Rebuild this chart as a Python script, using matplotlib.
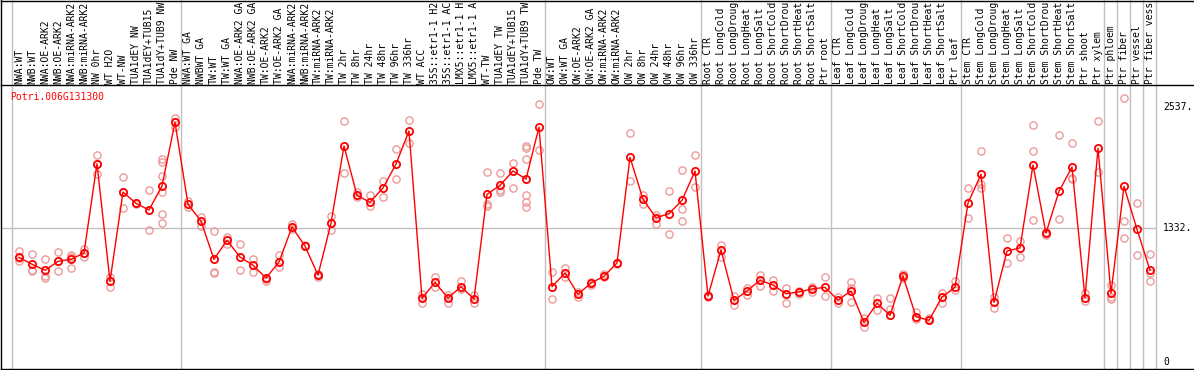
import matplotlib
matplotlib.use("Agg")
import matplotlib.pyplot as plt
from matplotlib.lines import Line2D

gene_id = "Potri.006G131300"

labels = [
    "NWA:WT", "NWB:WT", "NWA:OE-ARK2", "NWB:OE-ARK2", "NWA:miRNA-ARK2", "NWB:miRNA-ARK2",
    "NW 0hr", "WT H2O", "WT-NW", "TUA1dEY NW", "TUA1dEY+TUB15 NW", "TUA1dY+TUB9 NW", "Pde NW",
    "NWA:WT GA", "NWBWT GA", "TW:WT", "TW:WT GA", "NWA:OE-ARK2 GA", "NWB:OE-ARK2 GA",
    "TW:OE-ARK2", "TW:OE-ARK2 GA", "NWA:miRNA-ARK2", "NWB:miRNA-ARK2", "TW:miRNA-ARK2",
    "TW:miRNA-ARK2", "TW 2hr", "TW 8hr", "TW 24hr", "TW 48hr", "TW 96hr", "TW 336hr",
    "WT ACC", "35S::etr1-1 H2O", "35S::etr1-1 ACC", "LMX5::etr1-1 H2O", "LMX5::etr1-1 ACC",
    "WT-TW", "TUA1dEY TW", "TUA1dEY+TUB15 TW", "TUA1dY+TUB9 TW", "Pde TW",
    "OW:WT", "OW:WT GA", "OW:OE-ARK2", "OW:OE-ARK2 GA", "OW:miRNA-ARK2", "OW:miRNA-ARK2",
    "OW 2hr", "OW 8hr", "OW 24hr", "OW 48hr", "OW 96hr", "OW 336hr",
    "Root CTR", "Root LongCold", "Root LongDrought", "Root LongHeat", "Root LongSalt",
    "Root ShortCold", "Root ShortDrought", "Root ShortHeat", "Root ShortSalt", "Ptr root",
    "Leaf CTR", "Leaf LongCold", "Leaf LongDrought", "Leaf LongHeat", "Leaf LongSalt",
    "Leaf ShortCold", "Leaf ShortDrought", "Leaf ShortHeat", "Leaf ShortSalt", "Ptr leaf",
    "Stem CTR", "Stem LongCold", "Stem LongDrought", "Stem LongHeat", "Stem LongSalt",
    "Stem ShortCold", "Stem ShortDrought", "Stem ShortHeat", "Stem ShortSalt", "Ptr shoot",
    "Ptr xylem", "Ptr phloem", "Ptr fiber", "Ptr vessel", "Ptr fiber vessel",
]

means = [
    1042, 973, 913, 1002, 1022, 1085, 1971, 804, 1690, 1578, 1512, 1750, 2382,
    1568, 1402, 1022, 1211, 1045, 963, 837, 996, 1343, 1154, 866, 1380, 2147, 1657,
    1588, 1730, 1968, 2296, 635, 794, 638, 750, 628, 1667, 1757, 1899, 1819, 2335,
    750, 886, 675, 787, 854, 986, 2035, 1618, 1435, 1475, 1608, 1899,
    658, 1115, 615, 708, 814, 767, 681, 698, 728, 744,
    618, 708, 397, 587, 466, 857, 453, 417, 648, 744,
    1581, 1866, 595, 1105, 1135, 1958, 1283, 1697, 1938, 641, 2124,
    685, 1747, 1320, 913,
]

replicates = [
    [1102, 1040, 1005], [1075, 920, 906], [1022, 860, 840], [1095, 1002, 903],
    [1065, 1050, 933], [1128, 1085, 1048], [2055, 1971, 1869], [850, 744],
    [1842, 1690, 1528], [1580, 1570], [1707, 1510, 1310],
    [2018, 1988, 1849, 1687, 1469, 1386], [2428, 2382, 2339],
    [1601, 1545], [1445, 1356], [1300, 893, 883], [1247, 1174], [1174, 913],
    [1025, 893], [830, 810], [1062, 943], [1373, 1323], [1160, 1150], [880, 850],
    [1455, 1313], [2392, 1879], [1687, 1637], [1660, 1548], [1799, 1638],
    [2114, 1819], [2402, 2177], [678, 592], [850, 750], [668, 592], [804, 731],
    [668, 588], [1886, 1570, 1548], [1882, 1710, 1690], [1978, 1727],
    [2147, 2130, 2015, 1660, 1594, 1541], [2564, 2107],
    [893, 625], [936, 844], [695, 645], [800, 770], [874, 844], [990, 980],
    [2273, 1797], [1660, 1571], [1465, 1370], [1697, 1277], [1906, 1518, 1400],
    [2055, 1737],
    [665, 650], [1161, 1042], [658, 566], [734, 668], [866, 760], [817, 708],
    [737, 592], [708, 681], [750, 701], [844, 661],
    [645, 592], [797, 741, 602], [440, 354], [638, 519], [635, 526], [880, 840],
    [502, 427], [437, 417], [685, 585], [804, 718],
    [1727, 1429], [2094, 1767, 1727], [651, 542], [1231, 983], [1204, 1045],
    [2352, 2094, 1412], [1296, 1260], [2253, 1419], [2177, 1830, 1820],
    [691, 611], [2392, 1886],
    [767, 651, 625], [2620, 1402, 1231], [1578, 1062], [1075, 883, 804],
]

group_sizes = [13, 28, 12, 10, 10, 11, 1, 1, 1, 1]
ytick_values = [0, 1332, 2537]
ytick_labels = ["0", "1332.", "2537."]

# the reference shows column labels cut to the width of the header band
max_chars = 14

W, H, DPI = 1194, 370, 100
fig = plt.figure(figsize=(W / DPI, H / DPI), dpi=DPI)

ax_left, ax_right, ax_top, ax_bot = 1, 1194, 85, 369
ax = fig.add_axes([ax_left / W, (H - ax_bot) / H, (ax_right - ax_left) / W,
                   (ax_bot - ax_top) / H])
col_w = 13.0
x0 = 19.0
ax.set_xlim((ax_left - x0) / col_w, (ax_right - x0) / col_w)
scale = 0.10075
zero_px = 362.3
ax.set_ylim((zero_px - ax_bot) / scale, (zero_px - ax_top) / scale)
ax.set_xticks([])
ax.set_yticks([])
for s in ["left", "top", "bottom"]:
    ax.spines[s].set_linewidth(1.0)
    ax.spines[s].set_color("black")
ax.spines["right"].set_visible(False)

grey = "#c0c0c0"
red = "#ff0000"
pink = "#ec9a9a"
mono = "DejaVu Sans Mono"
fs = 7.0

bounds = [0]
for g in group_sizes:
    bounds.append(bounds[-1] + g)
ext = (ax_bot - 0) / (ax_bot - ax_top)
for b in bounds:
    ax.axvline(b - 0.56, ymin=0, ymax=ext, color=grey, lw=1.0, clip_on=False, zorder=1)

ax.hlines(ytick_values[1], ax.get_xlim()[0], bounds[-1] - 0.56, color=grey, lw=1.0, zorder=1)

n = len(means)
xs = list(range(n))

for i, reps in enumerate(replicates):
    ax.plot([i] * len(reps), reps, linestyle="none", marker="o", markersize=5.2,
            markerfacecolor="none", markeredgecolor=pink, markeredgewidth=1.0, zorder=2)

ax.plot(xs, means, color=red, lw=1.0, marker="o", markersize=5.2,
        markerfacecolor="none", markeredgecolor=red, markeredgewidth=1.3, zorder=3)

lab_y = (ax_bot - 83.5) / (ax_bot - ax_top)
for i, lab in enumerate(labels):
    shown = lab[:max_chars].rstrip()
    ax.text(i, lab_y, shown, transform=ax.get_xaxis_transform(), rotation=90,
            ha="center", va="bottom", fontsize=fs, family=mono, color="black",
            clip_on=False)

lab_x = (1163 - ax_left) / (ax_right - ax_left)
for v, t in zip(ytick_values, ytick_labels):
    ax.text(lab_x, v, t, transform=ax.get_yaxis_transform(), ha="left", va="center",
            fontsize=fs, family=mono, color="black")

ax.text((10 - ax_left) / (ax_right - ax_left), (ax_bot - 97) / (ax_bot - ax_top), gene_id,
        transform=ax.transAxes, ha="left", va="center", fontsize=fs, family=mono, color=red)

fig.add_artist(Line2D([ax_left / W, ax_left / W], [(H - ax_top) / H, 1.0],
                      transform=fig.transFigure, color="black", lw=1.0))
fig.add_artist(Line2D([ax_left / W, 1.0], [1 - 0.5 / H, 1 - 0.5 / H],
                      transform=fig.transFigure, color="black", lw=1.0))

fig.savefig("out.png", dpi=DPI)
